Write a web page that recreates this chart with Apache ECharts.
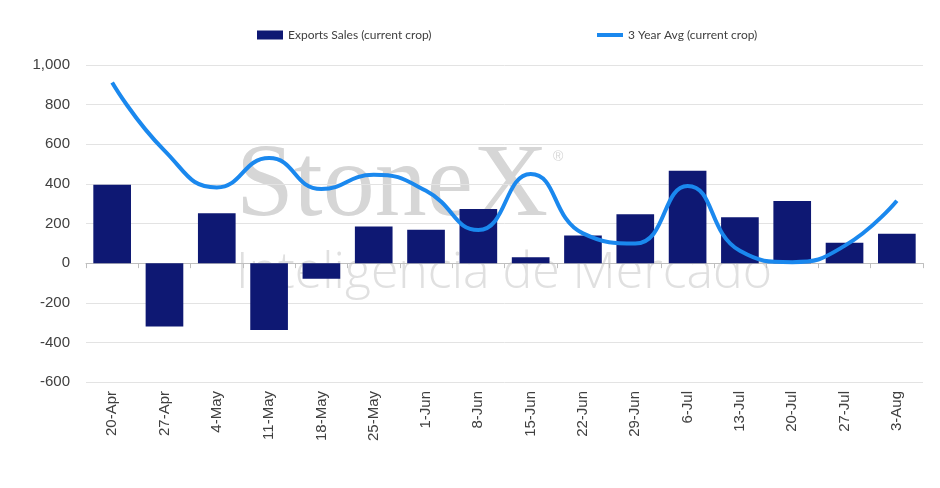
<!DOCTYPE html>
<html>
<head>
<meta charset="utf-8">
<script src="https://cdn.jsdelivr.net/npm/echarts@6/dist/echarts.min.js"></script>
<style>
  html, body { margin: 0; padding: 0; background: #ffffff; }
  #chart { width: 940px; height: 488px; }
</style>
</head>
<body>
<div id="chart"></div>
<script>
var weeks = ['20-Apr', '27-Apr', '4-May', '11-May', '18-May', '25-May', '1-Jun', '8-Jun',
    '15-Jun', '22-Jun', '29-Jun', '6-Jul', '13-Jul', '20-Jul', '27-Jul', '3-Aug'];
var exportSales = [395, -320, 252, -338, -79, 185, 168, 273, 30, 139, 247, 466, 232, 313, 103, 148];
var threeYearAvg = [912, 568, 382, 530, 374, 446, 365, 167, 450, 150, 99, 389, 62, 5, 87, 315];
var yTicks = {min: -600, max: 1000, interval: 200};

var chart = echarts.init(document.getElementById('chart'));

var option = {
    backgroundColor: '#ffffff',
    animation: false,
    textStyle: {fontFamily: 'Liberation Sans, Arial, sans-serif'},
    legend: [{
        left: 252,
        top: 24,
        itemWidth: 26,
        itemHeight: 9,
        itemGap: 4,
        textStyle: {fontSize: 12, color: '#404040', fontFamily: 'Lato, sans-serif'},
        data: [{name: 'Exports Sales (current crop)', icon: 'rect'}]
    }, {
        left: 592,
        top: 24,
        itemWidth: 26,
        itemHeight: 9,
        textStyle: {fontSize: 12, color: '#404040', fontFamily: 'Lato, sans-serif'},
        data: [{name: '3 Year Avg (current crop)', icon: 'path://M0,3 L26,3 L26,7 L0,7 Z'}]
    }],
    // marca de agua
    graphic: [{
        type: 'text',
        left: 236,
        top: 136,
        z: -10,
        silent: true,
        style: {
            text: 'StoneX',
            font: '104px "Liberation Serif", "DejaVu Serif", serif',
            fill: '#d6d6d6'
        }
    }, {
        type: 'text',
        left: 553,
        top: 150,
        z: -10,
        silent: true,
        style: {text: '®', font: '14px "Liberation Sans", sans-serif', fill: '#d6d6d6'}
    }, {
        type: 'text',
        left: 236,
        top: 249,
        z: -10,
        silent: true,
        style: {
            text: 'Inteligencia de Mercado',
            font: '300 50px "Open Sans", "Noto Sans", sans-serif',
            fill: '#e0e0e0'
        }
    }],
    grid: {left: 86, right: 17, top: 65, bottom: 106},
    xAxis: [{
        type: 'category',
        data: weeks,
        axisLine: {onZero: true, lineStyle: {color: '#bfbfbf', width: 1}},
        axisTick: {show: true, length: 5, lineStyle: {color: '#bfbfbf'}},
        axisLabel: {show: false},
        splitLine: {show: false}
    }, {
        type: 'category',
        data: weeks,
        position: 'bottom',
        axisLine: {show: false, onZero: false},
        axisTick: {show: false},
        axisLabel: {rotate: 90, fontSize: 15, color: '#404040', margin: 9, interval: 0}
    }],
    yAxis: {
        type: 'value',
        min: yTicks.min,
        max: yTicks.max,
        interval: yTicks.interval,
        axisLine: {show: false},
        axisTick: {show: false},
        axisLabel: {
            fontSize: 15,
            color: '#404040',
            margin: 16,
            formatter: function (v) {
                return v.toLocaleString('en-US');
            }
        },
        splitLine: {lineStyle: {color: '#e3e3e3', width: 1}}
    },
    series: [{
        name: 'Exports Sales (current crop)',
        type: 'bar',
        xAxisIndex: 0,
        data: exportSales,
        barWidth: '72%',
        itemStyle: {color: '#0e1873'},
        z: 2
    }, {
        name: '3 Year Avg (current crop)',
        type: 'line',
        xAxisIndex: 0,
        data: threeYearAvg,
        smooth: 0.5,
        showSymbol: false,
        symbol: 'none',
        lineStyle: {color: '#1a88ee', width: 4},
        itemStyle: {color: '#1a88ee'},
        z: 3
    }]
};
chart.setOption(option);
</script>
</body>
</html>
